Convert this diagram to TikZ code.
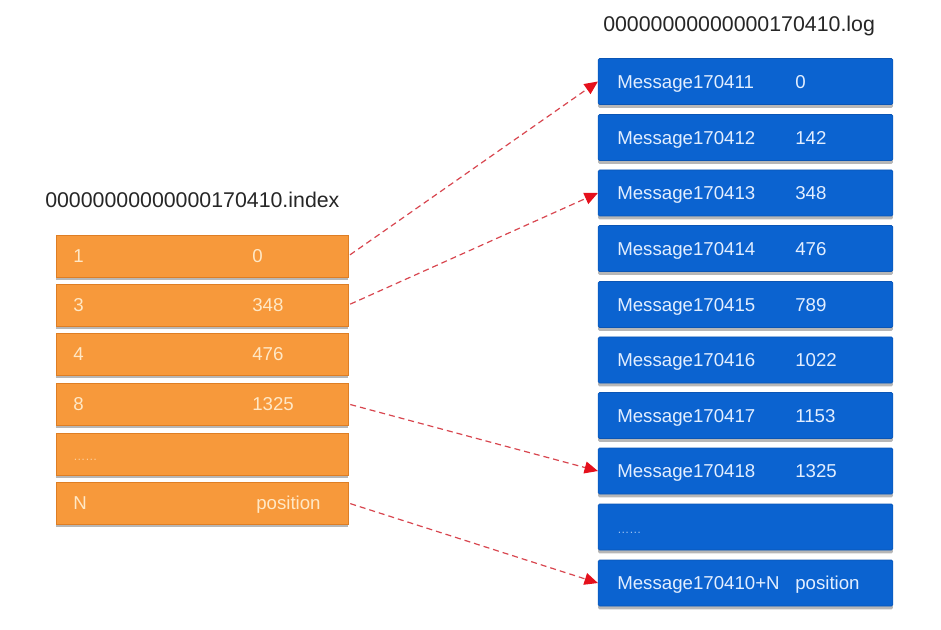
\documentclass[tikz,border=0pt]{standalone}
\usepackage{fontspec}
\setmainfont{Liberation Sans}
\usetikzlibrary{arrows.meta, positioning, shadows}
\definecolor{idxorange}{HTML}{F7993B}
\definecolor{idxedge}{HTML}{DE7E24}
\definecolor{idxtext}{HTML}{FFE8C6}
\definecolor{logblue}{HTML}{0B63D0}
\definecolor{logedge}{HTML}{0A55B5}
\definecolor{logtext}{HTML}{E2EEFF}
\definecolor{linkred}{HTML}{D8464F}
\definecolor{headred}{HTML}{E5101C}
\definecolor{titlegrey}{HTML}{262626}

\tikzset{
  filename/.style={font=\fontsize{16}{19}\selectfont, text=titlegrey, anchor=west, inner sep=0pt},
  idxbox/.style={draw=idxedge, line width=0.5pt, fill=idxorange, minimum width=219pt, minimum height=31.5pt,
    drop shadow={shadow xshift=0pt, shadow yshift=-2.5pt, opacity=0.4, fill=black!70}},
  logbox/.style={draw=logedge, line width=0.4pt, fill=logblue, rounded corners=1pt, minimum width=221pt, minimum height=34.5pt,
    drop shadow={shadow xshift=0pt, shadow yshift=-2.5pt, opacity=0.4, fill=black!70}},
  idxtxt/.style={font=\fontsize{14}{16}\selectfont, text=idxtext, anchor=west, inner sep=0pt,
    text height=12pt, text depth=2pt},
  logtxt/.style={font=\fontsize{14}{16}\selectfont, text=logtext, anchor=west, inner sep=0pt,
    text height=12pt, text depth=2pt},
  link/.style={linkred, line width=0.9pt, dash pattern=on 4.5pt off 3pt,
    -{Triangle[length=10pt, width=9pt, color=headred]}, shorten <=1.5pt},
}

\begin{document}
\begin{tikzpicture}[x=0.75pt, y=-0.75pt]
  \useasboundingbox (0,0) rectangle (941,630);

  % index file
  \node[filename] (idxname) at (45,200) {00000000000000170410.index};
  \node[idxbox] (idx1) at (202,256) {};
  \node[idxtxt] (ik1) at (73,256) {1};
  \node[idxtxt] (iv1) at (252,256) {0};
  \node[idxbox] (idx2) at (202,305) {};
  \node[idxtxt] (ik2) at (73,305) {3};
  \node[idxtxt] (iv2) at (252,305) {348};
  \node[idxbox] (idx3) at (202,354) {};
  \node[idxtxt] (ik3) at (73,354) {4};
  \node[idxtxt] (iv3) at (252,354) {476};
  \node[idxbox] (idx4) at (202,404) {};
  \node[idxtxt] (ik4) at (73,404) {8};
  \node[idxtxt] (iv4) at (252,404) {1325};
  \node[idxbox] (idx5) at (202,454) {};
  \node[idxtxt, text=idxtext!70!idxorange, font=\fontsize{9}{10}\selectfont] (ik5) at (73,454) {\textellipsis\textellipsis};
  \node[idxbox] (idx6) at (202,503) {};
  \node[idxtxt] (ik6) at (73,503) {N};
  \node[idxtxt] (iv6) at (256,503) {position};

  % log file
  \node[filename] (logname) at (603,26) {00000000000000170410.log};
  \node[logbox] (msg1) at (745.5,81.5) {};
  \node[logtxt] (mk1) at (617,81.5) {Message170411};
  \node[logtxt] (mv1) at (795,81.5) {0};
  \node[logbox] (msg2) at (745.5,137.5) {};
  \node[logtxt] (mk2) at (617,137.5) {Message170412};
  \node[logtxt] (mv2) at (795,137.5) {142};
  \node[logbox] (msg3) at (745.5,193) {};
  \node[logtxt] (mk3) at (617,193) {Message170413};
  \node[logtxt] (mv3) at (795,193) {348};
  \node[logbox] (msg4) at (745.5,248.5) {};
  \node[logtxt] (mk4) at (617,248.5) {Message170414};
  \node[logtxt] (mv4) at (795,248.5) {476};
  \node[logbox] (msg5) at (745.5,304.5) {};
  \node[logtxt] (mk5) at (617,304.5) {Message170415};
  \node[logtxt] (mv5) at (795,304.5) {789};
  \node[logbox] (msg6) at (745.5,360) {};
  \node[logtxt] (mk6) at (617,360) {Message170416};
  \node[logtxt] (mv6) at (795,360) {1022};
  \node[logbox] (msg7) at (745.5,415.5) {};
  \node[logtxt] (mk7) at (617,415.5) {Message170417};
  \node[logtxt] (mv7) at (795,415.5) {1153};
  \node[logbox] (msg8) at (745.5,471) {};
  \node[logtxt] (mk8) at (617,471) {Message170418};
  \node[logtxt] (mv8) at (795,471) {1325};
  \node[logbox] (msg9) at (745.5,527) {};
  \node[logtxt, text=logtext!70!logblue, font=\fontsize{9}{10}\selectfont] (mk9) at (617,527) {\textellipsis\textellipsis};
  \node[logbox] (msg10) at (745.5,583) {};
  \node[logtxt] (mk10) at (617,583) {Message170410+N};
  \node[logtxt] (mv10) at (795,583) {position};

  % index entries -> messages
  \draw[link] (idx1.east) -- (msg1.west);
  \draw[link] (idx2.east) -- (msg3.west);
  \draw[link] (idx4.east) -- (msg8.west);
  \draw[link] (idx6.east) -- (msg10.west);
\end{tikzpicture}
\end{document}
